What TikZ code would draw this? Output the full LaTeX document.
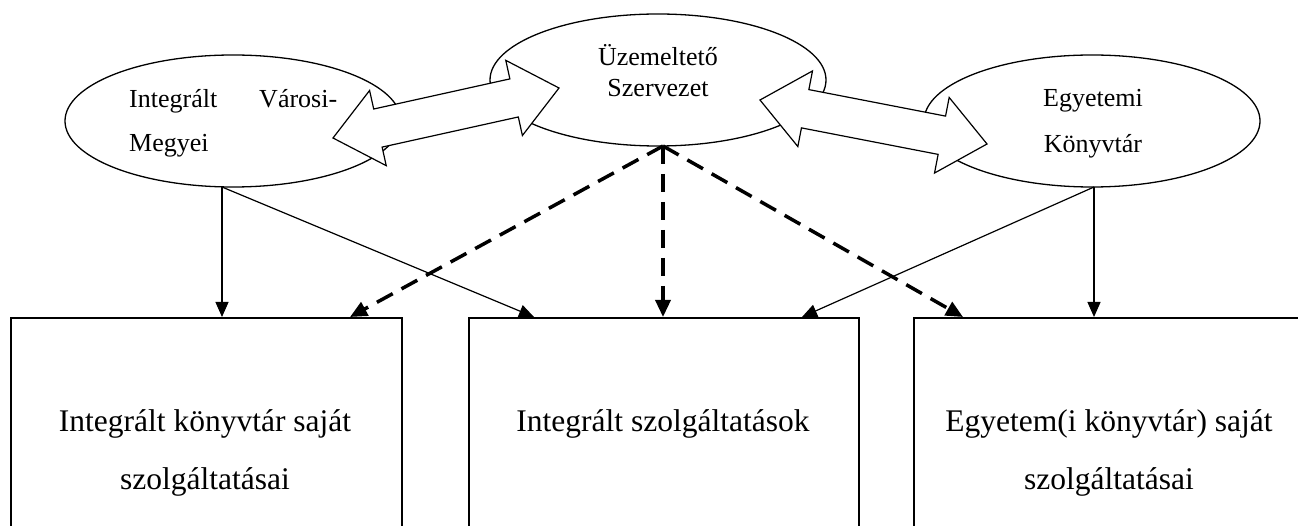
\documentclass[tikz,border=0pt]{standalone}
\usepackage{fontspec}
\setmainfont{Liberation Serif}
\usetikzlibrary{arrows.meta,calc,shapes.geometric}
\newcommand{\blockarr}[2]{%
  \draw[blockarrow] (#1)
    -- ($(#1)!46pt!(#2)!38.5pt!90:(#2)$)
    -- ($(#1)!46pt!(#2)!19.5pt!90:(#2)$)
    -- ($(#2)!46pt!(#1)!19.5pt!-90:(#1)$)
    -- ($(#2)!46pt!(#1)!38.5pt!-90:(#1)$)
    -- (#2)
    -- ($(#2)!46pt!(#1)!38.5pt!90:(#1)$)
    -- ($(#2)!46pt!(#1)!19.5pt!90:(#1)$)
    -- ($(#1)!46pt!(#2)!19.5pt!-90:(#2)$)
    -- ($(#1)!46pt!(#2)!38.5pt!-90:(#2)$)
    -- cycle;}
\begin{document}
\begin{tikzpicture}[x=1pt,y=-1pt,
  oval/.style={draw, ellipse, line width=1.3pt, fill=white, minimum width=336pt, minimum height=132pt, inner sep=0pt},
  svcbox/.style={draw, rectangle, line width=1.6pt, fill=white, inner sep=0pt, anchor=north west, minimum height=260pt},
  otxt/.style={inner sep=0pt},
  btxt/.style={font=\fontsize{31.5}{58}\selectfont, inner sep=0pt, align=center, anchor=base},
  solidarr/.style={line width=1.2pt, -{Triangle[length=15pt,width=13pt]}},
  dsh/.style={line width=3.5pt, dash pattern=on 18pt off 10pt, -{Triangle[length=17pt,width=15pt]}},
  blockarrow/.style={draw, fill=white, line width=1.2pt, line join=miter}
]
\path[use as bounding box] (0,0) rectangle (1298,526);
\clip (0,0) rectangle (1298,526);

% ellipses
\node[oval] (lell) at (233,121) {};
\node[oval] (cell) at (658,80) {};
\node[oval] (rell) at (1092,121) {};

% boxes
\node[svcbox, minimum width=391pt] (lbox) at (10,317) {};
\node[svcbox, minimum width=390pt] (mbox) at (468,317) {};
\node[svcbox, minimum width=400pt] (rbox) at (913,317) {};

% block double arrows
\coordinate (la1) at (333,138);
\coordinate (la2) at (559,88);
\coordinate (ra1) at (760,100);
\coordinate (ra2) at (987,144);
\blockarr{la1}{la2}
\blockarr{ra1}{ra2}

% connectors
\coordinate (lb) at (222,187);
\coordinate (cb) at (663,146);
\coordinate (rb) at (1094,187);
\draw[solidarr] (lb) -- (lb |- lbox.north);
\draw[solidarr] (lb) -- ($(mbox.north west)+(66,0)$);
\draw[solidarr] (rb) -- (rb |- rbox.north);
\draw[solidarr] (rb) -- ($(mbox.north west)+(334,0)$);
\draw[dsh] (cb) -- ($(lbox.north west)+(340,0)$);
\draw[dsh] (cb) -- (cb |- mbox.north);
\draw[dsh] (cb) -- ($(rbox.north west)+(50,0)$);

% texts
\node[otxt, font=\fontsize{26}{44}\selectfont, text width=208pt, align=left, anchor=base west] (ltxt) at (129,108) {Integrált\hspace{\fill}Városi-\\Megyei};
\node[otxt, font=\fontsize{26}{31}\selectfont, align=center, anchor=base] (ctxt) at (658,97) {Üzemeltető\\Szervezet};
\node[otxt, font=\fontsize{26}{46}\selectfont, align=center, anchor=base] (rtxt) at (1093,153) {Egyetemi\\Könyvtár};

\node[btxt] (lboxtxt) at (205,489) {Integrált könyvtár saját\\szolgáltatásai};
\node[btxt] (mboxtxt) at (663,431) {Integrált szolgáltatások};
\node[btxt] (rboxtxt) at (1109,489) {Egyetem(i könyvtár) saját\\szolgáltatásai};
\end{tikzpicture}
\end{document}
